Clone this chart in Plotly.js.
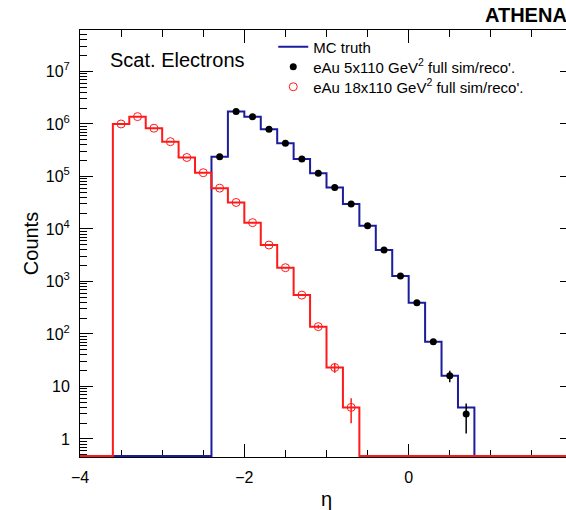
<!DOCTYPE html>
<html><head><meta charset="utf-8">
<script src="https://cdn.plot.ly/plotly-3.0.1.min.js"></script>
<style>html,body{margin:0;padding:0;overflow:hidden;background:#fff}#plot{width:600px;height:510px}</style>
</head><body><div id="plot"></div>
<script>
// eta bin centres (bin width 0.2, -4 .. 2)
const etaCenters = [-3.9,-3.7,-3.5,-3.3,-3.1,-2.9,-2.7,-2.5,-2.3,-2.1,-1.9,-1.7,-1.5,-1.3,-1.1,-0.9,-0.7,-0.5,-0.3,-0.1,0.1,0.3,0.5,0.7,0.9,1.1,1.3,1.5,1.7,1.9];
const binWidth = 0.2;

// eAu 5x110 (blue truth, black reco)
const truth5x110 = [0,0,0,0,0,0,0,0,2.38e5,1.72e6,1.38e6,7.9e5,4.3e5,2.15e5,1.15e5,6.2e4,3.0e4,1.15e4,3980,1270,395,71,16,4,0,0,0,0,0,0];
const reco5x110  = [0,0,0,0,0,0,0,0,2.38e5,1.72e6,1.38e6,7.9e5,4.3e5,2.15e5,1.15e5,6.2e4,3.0e4,1.15e4,3980,1270,395,71,16,3,0,0,0,0,0,0];

// eAu 18x110 (red truth, red open reco)
const truth18x110 = [0,0,1.0e6,1.38e6,8.3e5,4.6e5,2.3e5,1.18e5,6.0e4,3.2e4,1.32e4,4950,1830,550,138,23,4,0,0,0,0,0,0,0,0,0,0,0,0,0];
const reco18x110  = [0,0,1.0e6,1.38e6,8.3e5,4.6e5,2.3e5,1.18e5,6.0e4,3.2e4,1.32e4,4950,1830,550,138,23,4,0,0,0,0,0,0,0,0,0,0,0,0,0];

const seriesNames = ["MC truth", "eAu 5x110 GeV<sup>2</sup> full sim/reco'.", "eAu 18x110 GeV<sup>2</sup> full sim/reco'."];

const yTickVals = [1,10,100,1e3,1e4,1e5,1e6,1e7];
const yTickText = ["1","10","10<sup>2</sup>","10<sup>3</sup>","10<sup>4</sup>","10<sup>5</sup>","10<sup>6</sup>","10<sup>7</sup>"];
const xTickVals = [-4,-2,0];
const xTickText = ["\u22124","\u22122","0"];

const yRangeLog = [-0.343, 7.79];
const floorVal = Math.pow(10, yRangeLog[0] + 0.02);

function steps(counts){
  const x = [], y = [];
  for (let i = 0; i < etaCenters.length; i++){
    x.push(etaCenters[i] - binWidth/2);
    y.push(counts[i] > 0 ? counts[i] : floorVal);
  }
  x.push(etaCenters[etaCenters.length-1] + binWidth/2);
  y.push(y[y.length-1]);
  return {x, y};
}
function points(counts){
  const x = [], y = [], e = [];
  for (let i = 0; i < etaCenters.length; i++){
    if (counts[i] > 0){ x.push(etaCenters[i]); y.push(counts[i]); e.push(Math.sqrt(counts[i])); }
  }
  return {x, y, e};
}
const minorY = [];
for (let n = -1; n <= 7; n++) for (let k = 2; k <= 9; k++) minorY.push(k*Math.pow(10,n));

const BLUE = "#1c1c9c", RED = "#ff1a1a";
const FONT = "Liberation Sans, Arial, Helvetica, sans-serif";

const sb = steps(truth5x110), sr = steps(truth18x110);
const pb = points(reco5x110), pr = points(reco18x110);

const traces = [
  {x: sb.x, y: sb.y, mode: "lines", line: {shape: "hv", color: BLUE, width: 2}, name: seriesNames[0], showlegend: true, legend: "legend", hoverinfo: "skip"},
  {x: sr.x, y: sr.y, mode: "lines", line: {shape: "hv", color: RED, width: 2}, showlegend: false, hoverinfo: "skip"},
  {x: pb.x, y: pb.y, mode: "markers", name: seriesNames[1], legend: "legend2",
   marker: {symbol: "circle", size: 7, color: "#000"},
   error_y: {type: "data", array: pb.e, visible: true, width: 0, thickness: 1.5, color: "#000"}},
  {x: pr.x, y: pr.y, mode: "markers", name: seriesNames[2], legend: "legend3",
   marker: {symbol: "circle-open", size: 8, color: RED, line: {width: 1, color: RED}},
   error_y: {type: "data", array: pr.e, visible: true, width: 0, thickness: 1.5, color: RED}}
];

function legendAt(yc){
  return {x: 0.392, y: yc, xanchor: "left", yanchor: "middle", bgcolor: "rgba(0,0,0,0)",
          font: {family: FONT, size: 15, color: "#000"}, itemwidth: 30};
}

const layout = {
  width: 600, height: 510,
  margin: {l: 80, r: 27, t: 30, b: 53},
  paper_bgcolor: "#fff", plot_bgcolor: "#fff",
  font: {family: FONT, color: "#000", size: 16},
  showlegend: true,
  legend: legendAt(0.9602),
  legend2: legendAt(0.9133),
  legend3: legendAt(0.8665),
  xaxis: {
    range: [-4, 2], tickmode: "array", tickvals: xTickVals, ticktext: xTickText,
    ticks: "inside", ticklen: 13, tickwidth: 1, tickcolor: "#000",
    minor: {ticks: "inside", ticklen: 7, dtick: 0.5, tick0: 0, tickcolor: "#000", tickwidth: 1},
    showline: true, linecolor: "#000", linewidth: 1, mirror: "ticks",
    showgrid: false, zeroline: false, layer: "below traces",
    tickfont: {size: 16}, ticklabelstandoff: 6,
    title: {text: "\u03b7", font: {size: 20}, standoff: 11}
  },
  yaxis: {
    type: "log", range: yRangeLog, tickmode: "array", tickvals: yTickVals, ticktext: yTickText,
    ticks: "inside", ticklen: 13, tickwidth: 1, tickcolor: "#000",
    minor: {ticks: "inside", ticklen: 7, tickmode: "array", tickvals: minorY, tickcolor: "#000", tickwidth: 1},
    showline: true, linecolor: "#000", linewidth: 1, mirror: "ticks",
    showgrid: false, zeroline: false, layer: "below traces",
    tickfont: {size: 16}, ticklabelstandoff: 6,
    title: {text: "Counts", font: {size: 20}, standoff: 1}
  },
  annotations: [
    {text: "Scat. Electrons", xref: "paper", yref: "paper", x: 0.0568, y: 0.929, xanchor: "left", yanchor: "middle",
     showarrow: false, font: {family: FONT, size: 20, color: "#000"}},
    {text: "<b>ATHENA</b>", xref: "paper", yref: "paper", x: 0.8174, y: 1.0345, xanchor: "left", yanchor: "middle",
     showarrow: false, font: {family: FONT, size: 20, color: "#000"}}
  ]
};

Plotly.newPlot("plot", traces, layout, {displayModeBar: false, staticPlot: true});
</script>
</body></html>
